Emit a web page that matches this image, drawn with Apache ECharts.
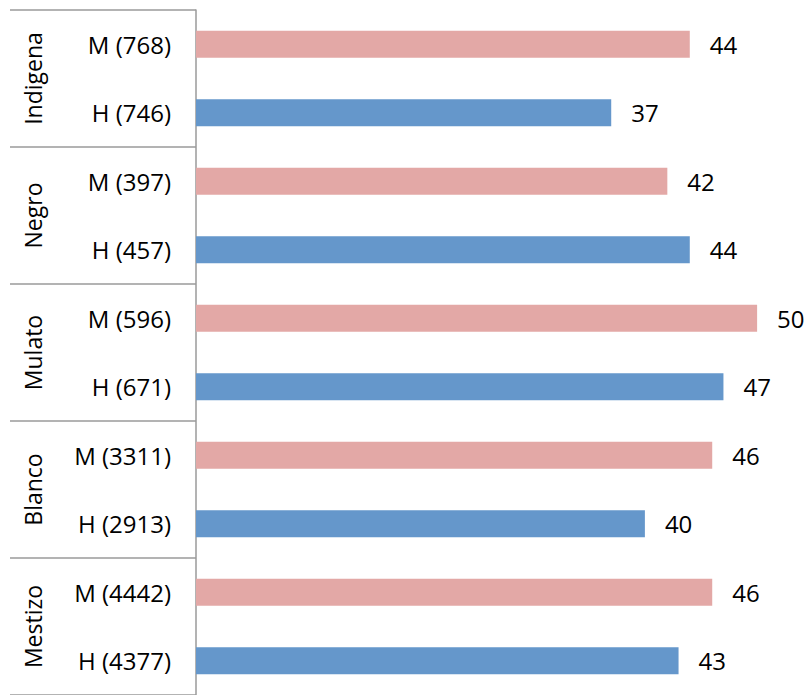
<!DOCTYPE html>
<html>
<head>
<meta charset="utf-8">
<script src="https://cdn.jsdelivr.net/npm/echarts@6/dist/echarts.min.js"></script>
<style>
  html, body { margin: 0; padding: 0; background: #fff; }
  #chart { width: 806px; height: 695px; }
</style>
</head>
<body>
<div id="chart"></div>
<script>
// rows top to bottom
var rowLabels = ['M (768)', 'H (746)', 'M (397)', 'H (457)', 'M (596)', 'H (671)',
                 'M (3311)', 'H (2913)', 'M (4442)', 'H (4377)'];
var values = [44, 37, 42, 44, 50, 47, 46, 40, 46, 43];
var groups = ['Indigena', 'Negro', 'Mulato', 'Blanco', 'Mestizo'];

var pink = '#e3a8a6';
var blue = '#6597cb';
var lineColor = '#9a9a9a';
var font = 'Open Sans';

var chart = echarts.init(document.getElementById('chart'), null, { renderer: 'svg' });
chart.setOption({
  animation: false,
  grid: { left: 196, top: 10, width: 606, height: 687 },
  xAxis: { type: 'value', min: 0, max: 54, show: false },
  yAxis: [
    {
      type: 'category',
      inverse: true,
      data: rowLabels,
      axisLine: { lineStyle: { color: lineColor, width: 1.5 } },
      axisTick: { show: false },
      axisLabel: { color: '#000', fontSize: 24, fontFamily: font, margin: 25 }
    },
    {
      type: 'category',
      inverse: true,
      position: 'left',
      data: groups,
      axisLine: { show: false },
      axisTick: { show: true, length: 186, lineStyle: { color: lineColor, width: 1.5 } },
      axisLabel: {
        color: '#000', fontSize: 23, fontFamily: font, rotate: 90,
        margin: 163, align: 'center', verticalAlign: 'middle'
      }
    }
  ],
  series: [{
    type: 'bar',
    barWidth: 27,
    data: values.map(function(v, i) {
      return { value: v, itemStyle: { color: rowLabels[i].charAt(0) === 'M' ? pink : blue } };
    }),
    label: { show: true, position: 'right', distance: 20, color: '#000', fontSize: 24, fontFamily: font }
  }]
});
</script>
</body>
</html>
